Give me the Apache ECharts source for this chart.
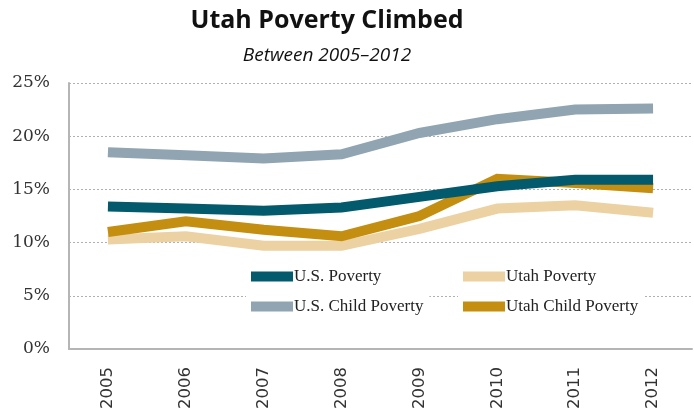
<!DOCTYPE html>
<html><head><meta charset="utf-8">
<script src="https://cdn.jsdelivr.net/npm/echarts@6/dist/echarts.min.js"></script>
<style>html,body{margin:0;padding:0;background:#fff}#c{width:694px;height:414px}</style>
</head><body><div id="c"></div>
<script>
const years = ['2005','2006','2007','2008','2009','2010','2011','2012'];
const usPoverty = [13.4, 13.2, 13.0, 13.3, 14.3, 15.3, 15.9, 15.9];
const utahPoverty = [10.3, 10.6, 9.7, 9.7, 11.3, 13.2, 13.5, 12.8];
const usChildPoverty = [18.5, 18.2, 17.9, 18.3, 20.3, 21.6, 22.5, 22.6];
const utahChildPoverty = [11.0, 12.0, 11.2, 10.6, 12.5, 16.0, 15.6, 15.1];
const yTicks = [0, 5, 10, 15, 20, 25];

const serif = '"Liberation Serif", "DejaVu Serif", serif';
function line(name, data, color, z) {
  return { name, type: 'line', data, symbol: 'none', z,
    lineStyle: { color, width: 10, cap: 'butt', join: 'miter' }, itemStyle: { color } };
}
const legendBase = {
  orient: 'vertical', top: 264, itemWidth: 42, itemHeight: 10, itemGap: 13, icon: 'rect',
  backgroundColor: '#fff', padding: [4, 6, 4, 5],
  textStyle: { fontFamily: serif, fontSize: 17, color: '#222', padding: [0, 0, 0, -4] }
};
const chart = echarts.init(document.getElementById('c'));
chart.setOption({
  animation: false,
  title: [
    { text: 'Utah Poverty Climbed', left: 322, top: 3, textAlign: 'center',
      textStyle: { fontFamily: '"Open Sans", sans-serif', fontWeight: 'bold', fontSize: 25, color: '#111' } },
    { text: 'Between 2005\u20132012', left: 322, top: 41, textAlign: 'center',
      textStyle: { fontFamily: '"Open Sans", sans-serif', fontStyle: 'italic', fontWeight: 'normal', fontSize: 19, color: '#111' } }
  ],
  grid: { left: 69, right: 2, top: 83, bottom: 65 },
  legend: [
    Object.assign({}, legendBase, { data: ['U.S. Poverty', 'U.S. Child Poverty'], left: 246 }),
    Object.assign({}, legendBase, { data: ['Utah Poverty', 'Utah Child Poverty'], left: 458 })
  ],
  xAxis: {
    type: 'category', data: years, boundaryGap: true,
    axisLine: { lineStyle: { color: '#b5b5b5', width: 2 } },
    axisTick: { show: false },
    axisLabel: { rotate: 90, margin: 18, fontFamily: '"DejaVu Sans", sans-serif', fontSize: 16.5, color: '#333' }
  },
  yAxis: {
    type: 'value', min: 0, max: 25, interval: 5,
    axisLine: { show: true, lineStyle: { color: '#b5b5b5', width: 2 } },
    axisTick: { show: false },
    splitLine: { lineStyle: { color: '#b0b0b0', type: [2, 2], width: 1 } },
    axisLabel: { margin: 19, fontFamily: '"DejaVu Serif", serif', fontSize: 17, color: '#333',
      formatter: v => yTicks.includes(v) ? v + '%' : '' }
  },
  series: [
    line('U.S. Poverty', usPoverty, '#035a6c', 5),
    line('Utah Poverty', utahPoverty, '#ecd1a3', 2),
    line('U.S. Child Poverty', usChildPoverty, '#90a4b2', 3),
    line('Utah Child Poverty', utahChildPoverty, '#c48e10', 4)
  ]
});
</script></body></html>
